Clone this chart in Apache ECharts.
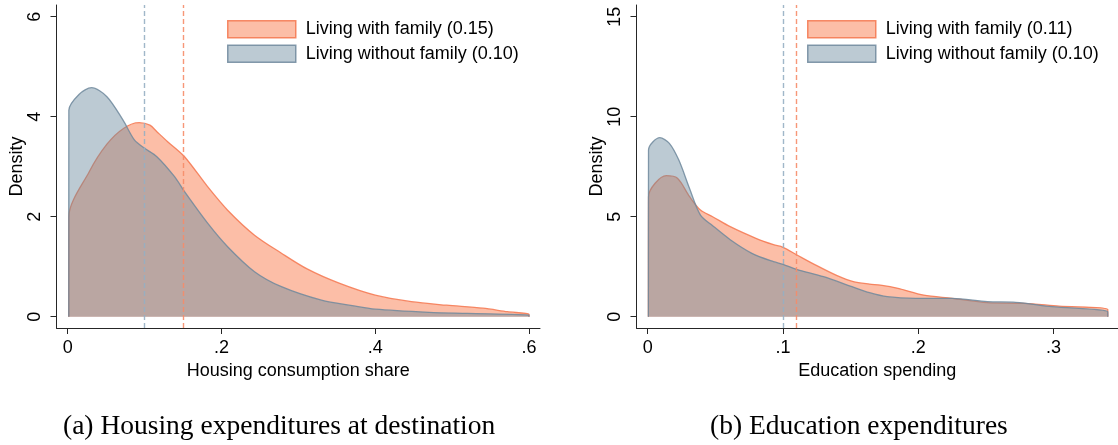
<!DOCTYPE html>
<html>
<head>
<meta charset="utf-8">
<script src="https://cdn.jsdelivr.net/npm/echarts@6.0.0/dist/echarts.min.js"></script>
<style>
html,body{margin:0;padding:0;background:#fff;}
#chart{width:1118px;height:445px;}
</style>
</head>
<body>
<div id="chart"></div>
<script>
// ---- Data ----
const housingWith = [[0.0014,0],[0.0015,2.0],[0.028,2.9],[0.051,3.45],[0.073,3.77],[0.093,3.88],[0.107,3.83],[0.116,3.7],[0.13,3.5],[0.152,3.2],[0.182,2.6],[0.208,2.13],[0.243,1.63],[0.278,1.27],[0.312,0.95],[0.353,0.67],[0.4,0.43],[0.447,0.3],[0.493,0.23],[0.54,0.17],[0.572,0.1],[0.6,0.047],[0.6001,0]];
const housingWithout = [[0.0014,0],[0.0015,4.13],[0.015,4.45],[0.031,4.58],[0.051,4.4],[0.072,3.93],[0.087,3.53],[0.1,3.37],[0.116,3.2],[0.139,2.8],[0.152,2.5],[0.182,1.87],[0.208,1.4],[0.243,0.9],[0.278,0.6],[0.33,0.33],[0.37,0.22],[0.4,0.15],[0.47,0.087],[0.52,0.065],[0.6,0.03],[0.6001,0]];
const eduWith = [[0.0005,0],[0.0006,6.0],[0.0137,7.05],[0.022,6.92],[0.031,6.0],[0.039,5.33],[0.048,5.0],[0.061,4.5],[0.08,3.92],[0.093,3.6],[0.1,3.47],[0.11,3.1],[0.125,2.55],[0.14,2.05],[0.152,1.75],[0.164,1.63],[0.172,1.58],[0.185,1.42],[0.204,1.08],[0.225,0.92],[0.251,0.7],[0.278,0.67],[0.304,0.53],[0.34,0.37],[0.3401,0]];
const eduWithout = [[0.0005,0],[0.0006,8.33],[0.009,8.95],[0.016,8.67],[0.023,7.83],[0.031,6.4],[0.039,5.08],[0.048,4.55],[0.061,3.85],[0.077,3.17],[0.093,2.75],[0.1,2.62],[0.11,2.37],[0.13,2.0],[0.151,1.5],[0.164,1.2],[0.177,1.0],[0.198,0.92],[0.225,0.92],[0.251,0.75],[0.272,0.72],[0.299,0.5],[0.34,0.25],[0.3401,0]];

const housingMeans = [0.15, 0.10];   // with, without
const eduMeans = [0.11, 0.10];       // with, without

const housingNames = ['Living with family (0.15)', 'Living without family (0.10)'];
const eduNames = ['Living with family (0.11)', 'Living without family (0.10)'];

const housingXTicks = [0, 0.2, 0.4, 0.6];
const housingYTicks = [0, 2, 4, 6];
const eduXTicks = [0, 0.1, 0.2, 0.3];
const eduYTicks = [0, 5, 10, 15];

const axisTitles = ['Housing consumption share', 'Education spending'];
const captions = ['(a) Housing expenditures at destination', '(b) Education expenditures'];

// ---- Styles ----
const ORANGE_FILL = 'rgba(250,125,80,0.5)';
const ORANGE_LINE = 'rgba(244,118,78,0.85)';
const BLUE_FILL = 'rgba(107,138,158,0.45)';
const BLUE_LINE = 'rgba(110,136,156,0.85)';
const ORANGE_DASH = 'rgba(246,140,105,0.9)';
const BLUE_DASH = 'rgba(150,175,195,0.9)';
const AXIS_COLOR = '#262626';
const SANS = 'Liberation Sans, Arial, sans-serif';

const fmt = v => (v === 0 ? '0' : String(+v.toFixed(2)).replace(/^0\./, '.'));

function xAxisCfg(gi, min, max, ticks, name) {
  return {
    type: 'value', gridIndex: gi, min, max,
    axisLine: {show: true, onZero: false, lineStyle: {color: AXIS_COLOR, width: 1}},
    axisTick: {show: true, customValues: ticks, length: 6, lineStyle: {color: AXIS_COLOR, width: 1}},
    axisLabel: {customValues: ticks, formatter: fmt, color: '#000', fontSize: 18, fontFamily: SANS, margin: 11},
    splitLine: {show: false},
    name, nameLocation: 'middle', nameGap: 31,
    nameTextStyle: {color: '#000', fontSize: 18, fontFamily: SANS}
  };
}
function yAxisCfg(gi, min, max, ticks) {
  return {
    type: 'value', gridIndex: gi, min, max,
    axisLine: {show: true, onZero: false, lineStyle: {color: AXIS_COLOR, width: 1}},
    axisTick: {show: true, customValues: ticks, length: 6, lineStyle: {color: AXIS_COLOR, width: 1}},
    axisLabel: {customValues: ticks, formatter: fmt, color: '#000', fontSize: 18, fontFamily: SANS, rotate: 90, margin: 12},
    splitLine: {show: false},
    name: 'Density', nameLocation: 'middle', nameGap: 30, nameRotate: 90,
    nameTextStyle: {color: '#000', fontSize: 18, fontFamily: SANS}
  };
}
function areaSeries(name, data, gi, fill, line, z) {
  return {
    type: 'line', name, data, xAxisIndex: gi, yAxisIndex: gi,
    smooth: 0.3, symbol: 'none', showSymbol: false,
    lineStyle: {color: line, width: 1.3},
    itemStyle: {color: fill},
    areaStyle: {color: fill, opacity: 1},
    z, silent: true, animation: false
  };
}
function meanLine(gi, value, color) {
  return {
    type: 'line', data: [], xAxisIndex: gi, yAxisIndex: gi, z: 1, silent: true, animation: false,
    itemStyle: {color}, lineStyle: {color},
    markLine: {
      symbol: 'none', silent: true, animation: false, label: {show: false},
      lineStyle: {color, type: [5, 3], width: 1.4},
      data: [{xAxis: value}]
    }
  };
}
function legendCfg(left, names) {
  return {
    orient: 'vertical', left, top: 20, padding: 0, itemGap: 6,
    itemWidth: 68, itemHeight: 17, selectedMode: false,
    textStyle: {color: '#000', fontSize: 18, fontFamily: SANS, padding: [0, 0, 0, 5]},
    data: [
      {name: names[0], icon: 'rect', itemStyle: {color: ORANGE_FILL, borderColor: ORANGE_LINE, borderWidth: 1.5}},
      {name: names[1], icon: 'rect', itemStyle: {color: BLUE_FILL, borderColor: BLUE_LINE, borderWidth: 1.5}}
    ]
  };
}

const chart = echarts.init(document.getElementById('chart'), null, {renderer: 'canvas'});
chart.setOption({
  animation: false,
  backgroundColor: '#fff',
  grid: [
    {left: 56.5, top: 5, width: 483.5, height: 323},
    {left: 636.5, top: 5, width: 481.5, height: 323}
  ],
  xAxis: [
    xAxisCfg(0, -0.01456, 0.6143, housingXTicks, axisTitles[0]),
    xAxisCfg(1, -0.00828, 0.3476, eduXTicks, axisTitles[1])
  ],
  yAxis: [
    yAxisCfg(0, -0.226, 6.234, housingYTicks),
    yAxisCfg(1, -0.565, 15.585, eduYTicks)
  ],
  legend: [legendCfg(227, housingNames), legendCfg(807, eduNames)],
  title: [
    {text: captions[0], left: 63, top: 413, padding: 0,
     textStyle: {fontFamily: 'Liberation Serif, serif', fontSize: 27.5, fontWeight: 'normal', color: '#000'}},
    {text: captions[1], left: 710, top: 413, padding: 0,
     textStyle: {fontFamily: 'Liberation Serif, serif', fontSize: 27.5, fontWeight: 'normal', color: '#000'}}
  ],
  series: [
    meanLine(0, housingMeans[1], BLUE_DASH),
    meanLine(0, housingMeans[0], ORANGE_DASH),
    areaSeries(housingNames[0], housingWith, 0, ORANGE_FILL, ORANGE_LINE, 2),
    areaSeries(housingNames[1], housingWithout, 0, BLUE_FILL, BLUE_LINE, 3),
    meanLine(1, eduMeans[1], BLUE_DASH),
    meanLine(1, eduMeans[0], ORANGE_DASH),
    areaSeries(eduNames[0], eduWith, 1, ORANGE_FILL, ORANGE_LINE, 2),
    areaSeries(eduNames[1], eduWithout, 1, BLUE_FILL, BLUE_LINE, 3)
  ]
});
</script>
</body>
</html>
